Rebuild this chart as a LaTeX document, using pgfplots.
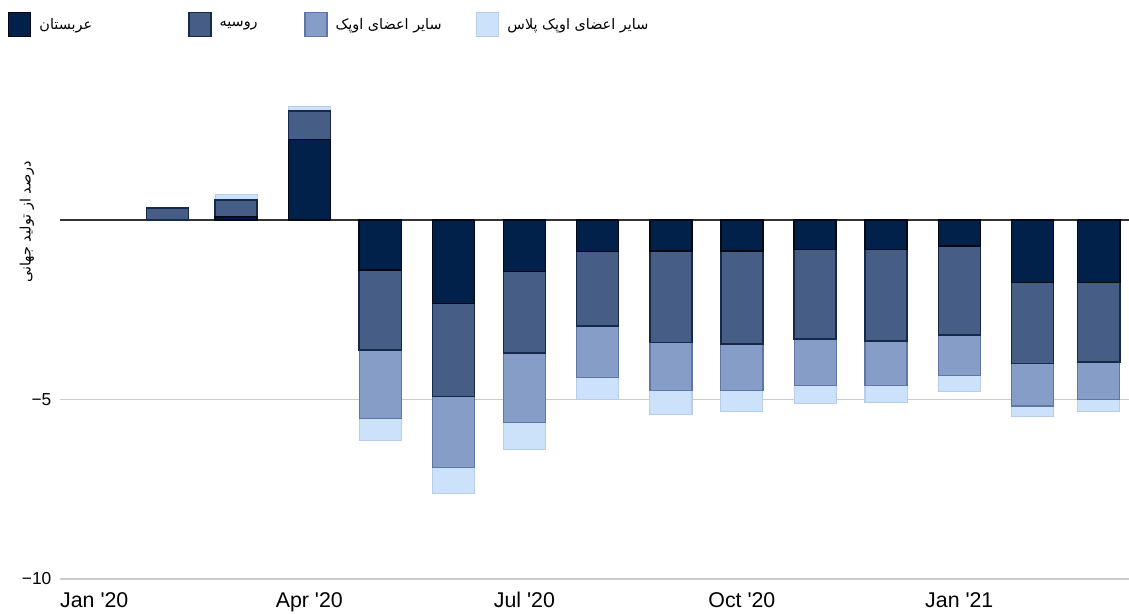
\documentclass[border=0pt]{standalone}
\usepackage{fontspec}
\setmainfont{Liberation Sans}
\newfontfamily\arabicfont[Script=Arabic]{DejaVu Sans}
\TeXXeTstate=1
\usepackage{pgfplots}
\pgfplotsset{compat=1.18}
\definecolor{saudi}{HTML}{01204A}
\definecolor{saudiedge}{HTML}{000814}
\definecolor{russia}{HTML}{465D85}
\definecolor{russiaedge}{HTML}{17294A}
\definecolor{opec}{HTML}{869DC8}
\definecolor{opecedge}{HTML}{5F75A3}
\definecolor{plus}{HTML}{CCE1FA}
\definecolor{plusedge}{HTML}{B7CDEA}
\definecolor{gridgray}{HTML}{CCCCCC}
\definecolor{zeroline}{HTML}{333333}
\begin{document}
\begin{tikzpicture}
\begin{axis}[
  scale only axis, width=801.75pt, height=367.5pt,
  xmin=-14.5, xmax=437.8, ymin=-10, ymax=3.65,
  ybar stacked, bar width=17.8,
  axis line style={draw=none}, major tick length=0pt,
  xtick={0,91,182,274,366},
  xticklabels={Jan \textquotesingle20, Apr \textquotesingle20, Jul \textquotesingle20, Oct \textquotesingle20, Jan \textquotesingle21},
  ytick={-10,-5}, yticklabels={−10,−5},
  ymajorgrids, grid style={line width=1.1pt, color=gridgray},
  extra y ticks={0}, extra y tick labels={},
  extra y tick style={grid style={line width=1.3pt, color=zeroline}},
  xticklabel style={font=\fontsize{16}{19}\selectfont, text height=11.5pt, text depth=3pt, yshift=-6pt},
  yticklabel style={font=\fontsize{13}{15}\selectfont, xshift=-3pt},
  legend columns=4,
  legend cell align=left,
  legend image code/.code={\draw[#1] (0pt,-9pt) rectangle (16.5pt,9pt);},
  legend style={at={(axis description cs:0,1)}, anchor=north west,
    xshift=-39pt, yshift=57.75pt, draw=none, fill=none,
    inner sep=0pt, outer sep=0pt,
    /tikz/every odd column/.append style={column sep=4pt},
    /tikz/every even column/.append style={column sep=24pt},
    font=\arabicfont\fontsize{10.8}{13}\selectfont},
]
\addplot[fill=saudi, draw=saudiedge, line width=1.1pt] coordinates {
 (31,0) (60,0.09) (91,2.25) (121,-1.39) (152,-2.32) (182,-1.44) (213,-0.88)
 (244,-0.86) (274,-0.86) (305,-0.82) (335,-0.82) (366,-0.72) (397,-1.74) (425,-1.74)};
\addlegendentry{\beginR عربستان\endR\hspace*{46pt}}
\addplot[fill=russia, draw=russiaedge, line width=1.1pt] coordinates {
 (31,0.34) (60,0.47) (91,0.79) (121,-2.23) (152,-2.60) (182,-2.27) (213,-2.07)
 (244,-2.55) (274,-2.59) (305,-2.50) (335,-2.55) (366,-2.48) (397,-2.25) (425,-2.21)};
\addlegendentry{\beginR روسیه\endR\hspace*{9pt}}
\addplot[fill=opec, draw=opecedge, line width=0.9pt] coordinates {
 (31,0) (60,0) (91,0) (121,-1.90) (152,-1.98) (182,-1.93) (213,-1.43)
 (244,-1.33) (274,-1.31) (305,-1.30) (335,-1.25) (366,-1.14) (397,-1.19) (425,-1.06)};
\addlegendentry{\beginR سایر اعضای اوپک\endR}
\addplot[fill=plus, draw=plusedge, line width=0.8pt] coordinates {
 (31,0) (60,0.14) (91,0.12) (121,-0.63) (152,-0.73) (182,-0.75) (213,-0.61)
 (244,-0.67) (274,-0.58) (305,-0.49) (335,-0.46) (366,-0.44) (397,-0.30) (425,-0.33)};
\addlegendentry{\beginR سایر اعضای اوپک پلاس\endR}
\coordinate (bbsw) at (rel axis cs:0,0);
\coordinate (bbne) at (rel axis cs:1,1);
\end{axis}
\node[rotate=90, font=\arabicfont\fontsize{10.8}{13}\selectfont]
  at ([xshift=-24.75pt, yshift=267.75pt]bbsw) {\beginR درصد از تولید جهانی\endR};
\pgfresetboundingbox
\path[use as bounding box] ([xshift=-45pt,yshift=-26.25pt]bbsw) rectangle ([yshift=66.75pt]bbne);
\end{tikzpicture}
\end{document}
